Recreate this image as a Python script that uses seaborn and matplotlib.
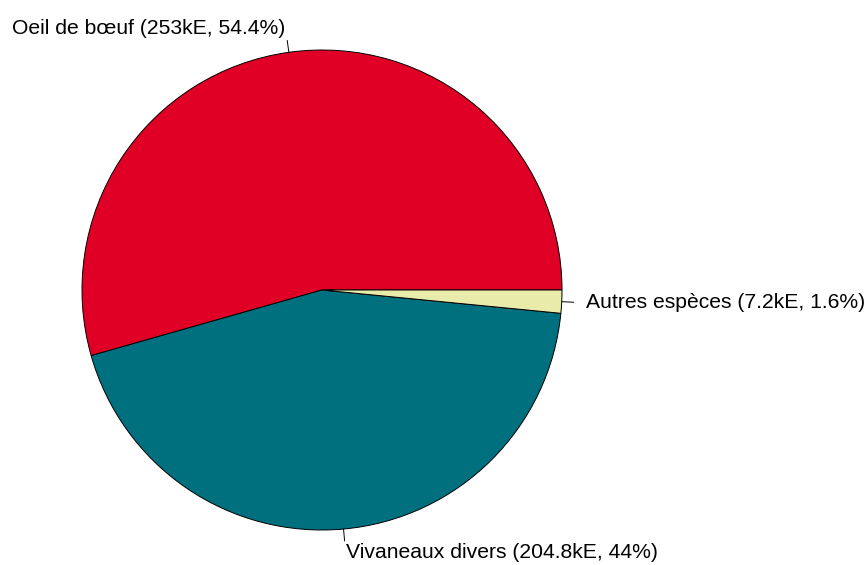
import numpy as np
import matplotlib
matplotlib.use("Agg")
import matplotlib.pyplot as plt
import seaborn as sns

# Donnees
especes = ["Oeil de bœuf", "Vivaneaux divers", "Autres espèces"]
valeurs_ke = [253.0, 204.8, 7.2]
pourcents = [54.4, 44, 1.6]
couleurs = ["#E00025", "#00707F", "#E8EBAA"]

sns.set_style("white")
plt.rcParams['font.family'] = ['Liberation Sans', 'DejaVu Sans']

W, H, R = 868, 565, 240.0
cx, cy = 322, 290
fig = plt.figure(figsize=(W / 100, H / 100), dpi=100)
ax = fig.add_axes([0, 0, 1, 1])

wedges, _ = ax.pie(valeurs_ke, colors=couleurs, startangle=0, counterclock=True,
                   radius=1, center=(0, 0),
                   wedgeprops=dict(edgecolor="black", linewidth=0.7))

for w, nom, v, p in zip(wedges, especes, valeurs_ke, pourcents):
    ang = np.deg2rad((w.theta1 + w.theta2) / 2)
    c, s = np.cos(ang), np.sin(ang)
    ax.plot([c, 1.05 * c], [s, 1.05 * s], color="black", lw=0.7)
    ha = "left" if c > 0 else "right"
    ax.text(1.1 * c, 1.1 * s, f"{nom} ({v:g}kE, {p:g}%)", ha=ha, va="center",
            fontsize=15.2, color="black")

ax.set_xlim(-cx / R, (W - cx) / R)
ax.set_ylim(-(H - cy) / R, cy / R)
ax.set_aspect("equal")
ax.axis("off")

fig.savefig("out.png", dpi=100, facecolor="white")
